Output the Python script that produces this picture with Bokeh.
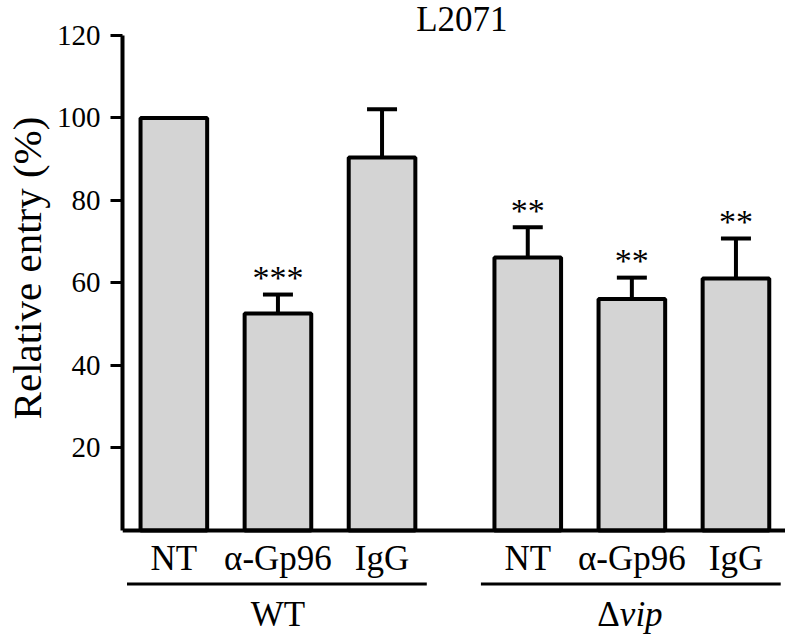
from bokeh.plotting import figure
from bokeh.layouts import column
from bokeh.models import (LinearAxis, FixedTicker, Whisker, TeeHead,
                          ColumnDataSource, Span, Range1d)
from bokeh.core.properties import value
from bokeh.embed import file_html
from bokeh.resources import INLINE

# ---------------- data ----------------
title_text = "L2071"
groups = ["WT", "vip"]
treatments = ["NT", "α-Gp96", "IgG"]
wt_values = [100.0, 52.6, 90.4]
wt_errors = [0.0, 4.6, 11.7]
vip_values = [66.2, 56.1, 61.1]
vip_errors = [7.3, 5.2, 9.7]
wt_marks = ["", "***", ""]
vip_marks = ["**", "**", "**"]
y_ticks = [20, 40, 60, 80, 100, 120]
y_label = "Relative entry (%)"

# ---------------- layout / style ----------------
W = 785
H1, H2 = 535, 100
FONT = "Liberation Serif"
GAP = 0.4
BAR_W = 0.64
GRAY = "#d4d4d4"
TXT_FIX = -12  # baseline correction for text glyphs

values = wt_values + vip_values
errors = wt_errors + vip_errors
marks = wt_marks + vip_marks
labels = treatments * 2
n = len(treatments)
xs = [i + g * (n + GAP) for g in range(len(groups)) for i in range(n)]

x_range = Range1d(-0.4933, 5.876)

# ---------------- main plot ----------------
p = figure(width=W, height=H1, x_range=x_range, y_range=(-1.212, 128.48),
           x_axis_type=None, y_axis_type=None, toolbar_location=None,
           output_backend="svg", min_border=0, min_border_left=120,
           outline_line_color=None)

yaxis = LinearAxis(bounds=(0, 120), ticker=FixedTicker(ticks=y_ticks))
yaxis.axis_line_width = 4
yaxis.axis_line_color = "black"
yaxis.major_tick_out = 12
yaxis.major_tick_in = 0
yaxis.minor_tick_out = 0
yaxis.minor_tick_in = 0
yaxis.major_tick_line_width = 3
yaxis.major_tick_line_color = "black"
yaxis.major_label_text_font = FONT
yaxis.major_label_text_font_size = "29px"
yaxis.major_label_text_color = "black"
yaxis.major_label_standoff = 10
yaxis.axis_label = y_label
yaxis.axis_label_text_font = FONT
yaxis.axis_label_text_font_size = "41px"
yaxis.axis_label_text_font_style = "normal"
yaxis.axis_label_text_color = "black"
yaxis.axis_label_standoff = 4
p.add_layout(yaxis, "left")

# x-axis baseline
p.add_layout(Span(location=0, dimension="width", line_color="black", line_width=4))

# bars
p.vbar(x=xs, top=values, bottom=0, width=BAR_W, fill_color=GRAY,
       line_color="black", line_width=4)

# error bars (upper only)
ex = [x for x, e in zip(xs, errors) if e > 0]
elo = [v for v, e in zip(values, errors) if e > 0]
ehi = [v + e for v, e in zip(values, errors) if e > 0]
src = ColumnDataSource(dict(x=ex, lower=elo, upper=ehi))
p.add_layout(Whisker(source=src, base="x", lower="lower", upper="upper",
                     dimension="height", line_color="black", line_width=4,
                     lower_head=None,
                     upper_head=TeeHead(size=30, line_color="black", line_width=4)))

# significance marks
mx = [x for x, m in zip(xs, marks) if m]
my = [v + e for v, e, m in zip(values, errors, marks) if m]
mt = [m for m in marks if m]
p.text(x=mx, y=my, text=mt, text_align="center", text_baseline="alphabetic",
       y_offset=-5 + TXT_FIX, text_font=value(FONT), text_font_size="34px",
       text_color="black")

# title
p.text(x=[sum(xs) / len(xs)], y=[120], text=[title_text], text_align="center",
       text_baseline="alphabetic", x_offset=7, y_offset=-4 + TXT_FIX,
       text_font=value(FONT), text_font_size="35px", text_color="black")

# ---------------- category / group strip (screen-pixel y scale) ----------------
q = figure(width=W, height=H2, x_range=x_range, y_range=(-H2, 0),
           x_axis_type=None, y_axis_type=None, toolbar_location=None,
           output_backend="svg", min_border=0, min_border_left=120,
           outline_line_color=None)

CAT_Y = -35      # baseline of treatment labels
LINE_Y = -48.5   # group underline
GRP_Y = -91      # baseline of group labels

q.text(x=xs, y=[CAT_Y] * len(xs), text=labels, text_align="center",
       text_baseline="alphabetic", y_offset=TXT_FIX, text_font=value(FONT),
       text_font_size="35px", text_color="black")

g_first = [xs[g * n] for g in range(len(groups))]
g_last = [xs[g * n + n - 1] for g in range(len(groups))]
q.segment(x0=[a - 0.45 for a in g_first], x1=[b + 0.43 for b in g_last],
          y0=[LINE_Y] * len(groups), y1=[LINE_Y] * len(groups),
          line_color="black", line_width=3)
g_center = [(a + b) / 2 for a, b in zip(g_first, g_last)]
q.text(x=[g_center[0]], y=[GRP_Y], text=[groups[0]], text_align="center",
       text_baseline="alphabetic", y_offset=TXT_FIX, text_font=value(FONT),
       text_font_size="35px", text_color="black")
q.text(x=[g_center[1]], y=[GRP_Y], text=["Δ"], text_align="right",
       text_baseline="alphabetic", y_offset=TXT_FIX, x_offset=-12,
       text_font=value(FONT), text_font_size="35px", text_color="black")
q.text(x=[g_center[1]], y=[GRP_Y], text=[groups[1]], text_align="left",
       text_baseline="alphabetic", y_offset=TXT_FIX, x_offset=-12,
       text_font=value(FONT), text_font_style="italic", text_font_size="35px",
       text_color="black")

layout = column(p, q, spacing=0)
open("out.html", "w").write(file_html(layout, INLINE))
